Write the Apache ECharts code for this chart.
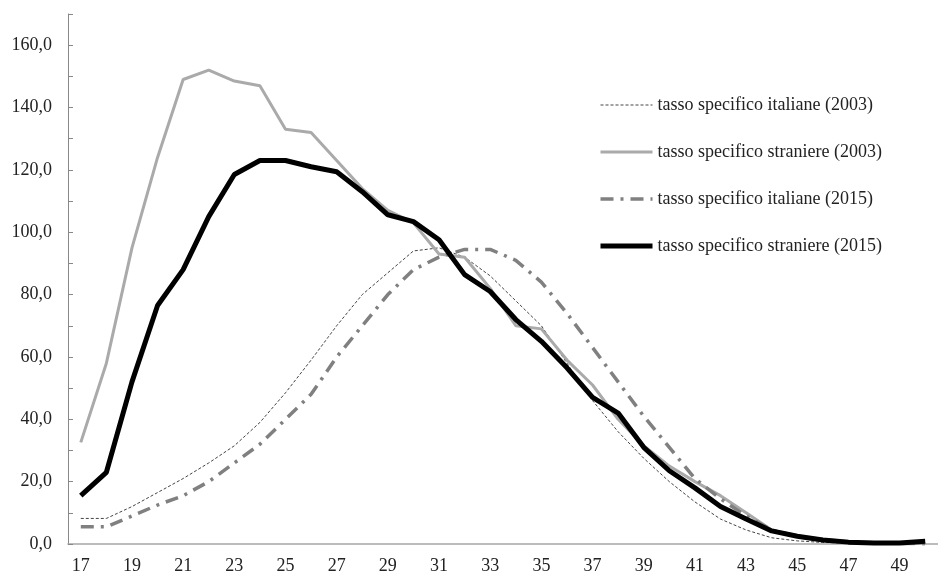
<!DOCTYPE html>
<html><head><meta charset="utf-8">
<script src="https://cdn.jsdelivr.net/npm/echarts@6/dist/echarts.min.js"></script>
<style>html,body{margin:0;padding:0;background:#fff}#c{width:938px;height:575px}</style>
</head><body><div id="c"></div>
<script>
const ages = ['17','18','19','20','21','22','23','24','25','26','27','28','29','30','31','32','33','34','35','36','37','38','39','40','41','42','43','44','45','46','47','48','49','50'];
const italiane2003 = [8.2,8.2,12,16.5,21,26,31.5,39,48.5,59,70,80,87,94,95,92,86,78,70,58,46,36,27.5,20,13.5,8,4.5,2,1,0.5,0.3,0.2,0.1,0.1];
const straniere2003 = [32.6,58,95,124,149,152,148.5,147,133,132,123,114,107,103,93,92,82,70,69,59,51,40,31.5,25,20,15.5,10,4.5,2.5,1.5,0.8,0.5,0.3,0.2];
const italiane2015 = [5.5,5.5,9,12.5,15.5,20,26,32,40,48,60,70,80,88,92,94.5,94.5,91,84,74,63,52,41,31,21,14.5,9,4.5,2.5,1.3,0.6,0.3,0.2,0.1];
const straniere2015 = [15.5,23,52,76.5,88,105,118.5,123,123,121,119.4,113,105.6,103.4,97.6,86.4,81,72,65,56.5,47,42,31,23.5,18,12,8,4.2,2.5,1.3,0.6,0.3,0.3,0.9];
const names = ['tasso specifico italiane (2003)','tasso specifico straniere (2003)','tasso specifico italiane (2015)','tasso specifico straniere (2015)'];
const FONT = 'Liberation Serif';
const styles = [
  {color: '#444', width: 1, type: [3,2]},
  {color: '#aaaaaa', width: 3, type: 'solid'},
  {color: '#808080', width: 3.5, type: [13,7,3,7]},
  {color: '#000', width: 5, type: 'solid'}
];
const seriesData = [italiane2003, straniere2003, italiane2015, straniere2015];
const chart = echarts.init(document.getElementById('c'));
chart.setOption({
  animation: false,
  backgroundColor: '#fff',
  grid: {left: 68, top: 14, width: 877, bottom: 30, containLabel: false},
  legend: {
    orient: 'vertical', left: 593, top: 91, itemGap: 29, itemWidth: 52, itemHeight: 18,
    itemStyle: {opacity: 0},
    textStyle: {fontFamily: FONT, fontSize: 18, color: '#222'},
    data: names.map((n, i) => ({name: n, lineStyle: {color: styles[i].color, width: styles[i].width, type: styles[i].type}}))
  },
  xAxis: {
    type: 'category', data: ages, boundaryGap: true,
    axisLine: {lineStyle: {color: '#a6a6a6', width: 1.5}},
    axisTick: {show: false},
    axisLabel: {interval: 1, fontFamily: FONT, fontSize: 18, color: '#222', margin: 13}
  },
  yAxis: {
    type: 'value', min: 0, max: 170, interval: 10,
    splitLine: {show: false},
    axisLine: {show: true, lineStyle: {color: '#888', width: 1}},
    axisTick: {show: true, inside: true, length: 5, lineStyle: {color: '#888'}},
    axisLabel: {fontFamily: FONT, fontSize: 18, color: '#222', margin: 16,
      formatter: v => (v % 20 === 0 ? v.toFixed(1).replace('.', ',') : '')}
  },
  series: names.map((n, i) => ({
    name: n, type: 'line', data: seriesData[i], symbol: 'none',
    lineStyle: {color: styles[i].color, width: styles[i].width, type: styles[i].type},
    itemStyle: {color: styles[i].color}
  }))
});
</script></body></html>
